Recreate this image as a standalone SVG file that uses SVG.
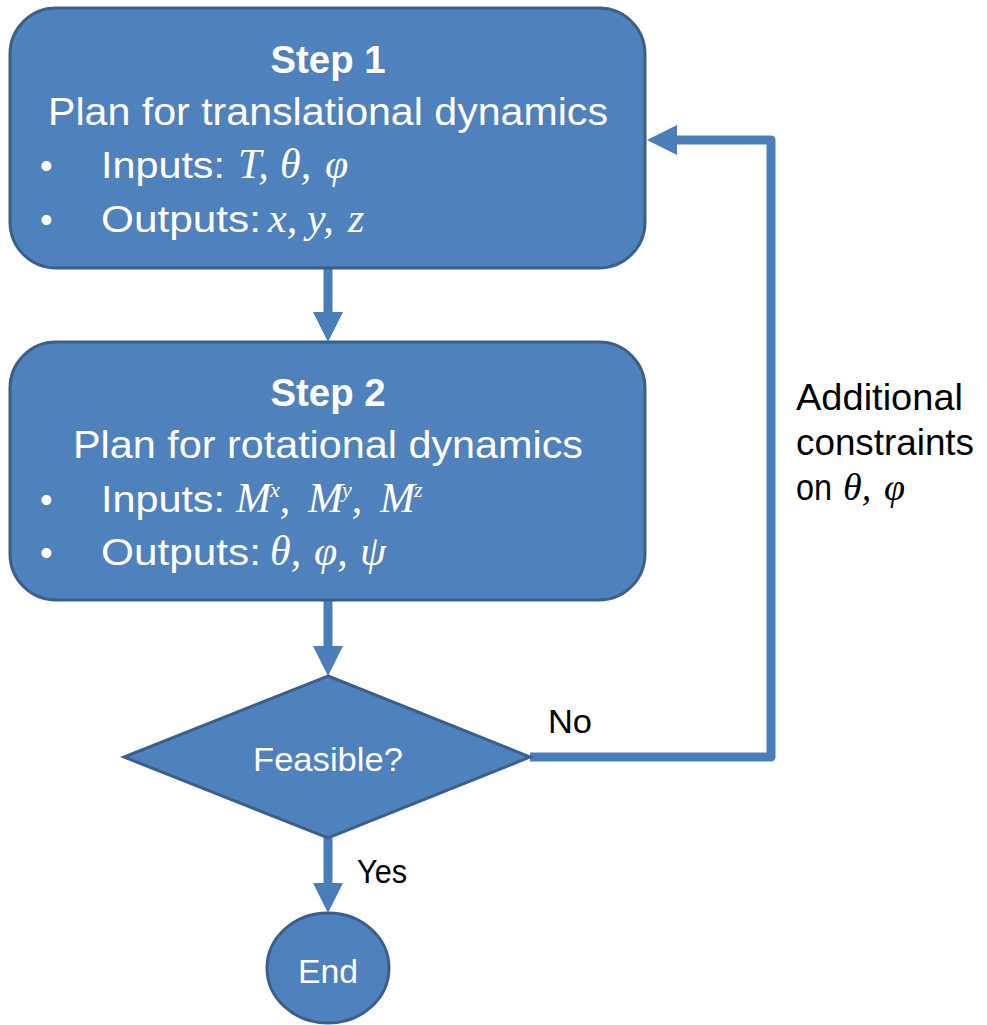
<svg xmlns="http://www.w3.org/2000/svg" width="987" height="1025" viewBox="0 0 987 1025">
<defs>
<style>
.node{fill:#4F81BD;stroke:#3A5F8B;stroke-width:3}
.t{font-family:"Liberation Sans",Arial,sans-serif;fill:#fff}
.b{font-weight:bold}
.lbl{font-family:"Liberation Sans",Arial,sans-serif;fill:#000}
.m{font-family:"Liberation Serif","Times New Roman",serif;font-style:italic;font-size:42px}
.conn{fill:none;stroke:#4A7EBB;stroke-width:9;stroke-linejoin:round}
</style>
<marker id="ah" markerUnits="userSpaceOnUse" markerWidth="30" markerHeight="30" refX="12" refY="15" orient="auto" viewBox="0 0 30 30">
<path d="M0,0 L30,15 L0,30 z" fill="#4A7EBB"/>
</marker>
</defs>
<g id="connectors">
<line class="conn" x1="328" y1="268" x2="328" y2="324" marker-end="url(#ah)"/>
<line class="conn" x1="328" y1="600" x2="328" y2="658" marker-end="url(#ah)"/>
<line class="conn" x1="328" y1="838" x2="328" y2="895" marker-end="url(#ah)"/>
<path class="conn" d="M530,757 H771 V140 H665" marker-end="url(#ah)"/>
</g>
<g id="step1">
<rect class="node" x="10" y="8" width="635" height="260" rx="46" ry="46"/>
<text class="t b" x="328" y="73" font-size="38" text-anchor="middle" textLength="115" lengthAdjust="spacingAndGlyphs">Step 1</text>
<text class="t" x="328" y="125" font-size="38" text-anchor="middle" textLength="560" lengthAdjust="spacingAndGlyphs">Plan for translational dynamics</text>
<text class="t" x="40" y="178" font-size="36">•</text>
<text class="t" x="101" y="178" font-size="37" textLength="124" lengthAdjust="spacingAndGlyphs">Inputs:</text>
<text class="t m" x="238" y="178">T,</text>
<text class="t m" x="280" y="178">θ,</text>
<text class="t m" x="325" y="178">φ</text>
<text class="t" x="40" y="232" font-size="36">•</text>
<text class="t" x="101" y="232" font-size="37" textLength="160" lengthAdjust="spacingAndGlyphs">Outputs:</text>
<text class="t m" x="268" y="232">x,</text>
<text class="t m" x="307" y="232">y,</text>
<text class="t m" x="348" y="232">z</text>
</g>
<g id="step2">
<rect class="node" x="10" y="342" width="635" height="258" rx="46" ry="46"/>
<text class="t b" x="328" y="406" font-size="38" text-anchor="middle" textLength="115" lengthAdjust="spacingAndGlyphs">Step 2</text>
<text class="t" x="328" y="458" font-size="38" text-anchor="middle" textLength="510" lengthAdjust="spacingAndGlyphs">Plan for rotational dynamics</text>
<text class="t" x="40" y="512" font-size="36">•</text>
<text class="t" x="101" y="512" font-size="37" textLength="124" lengthAdjust="spacingAndGlyphs">Inputs:</text>
<text class="t m" x="236" y="512">M<tspan font-size="22" dx="-1" dy="-15">x</tspan><tspan dy="15">,</tspan></text>
<text class="t m" x="308" y="512">M<tspan font-size="22" dx="-1" dy="-15">y</tspan><tspan dy="15">,</tspan></text>
<text class="t m" x="380" y="512">M<tspan font-size="22" dx="-1" dy="-15">z</tspan></text>
<text class="t" x="40" y="565" font-size="36">•</text>
<text class="t" x="101" y="565" font-size="37" textLength="160" lengthAdjust="spacingAndGlyphs">Outputs:</text>
<text class="t m" x="270" y="565">θ,</text>
<text class="t m" x="314" y="565">φ,</text>
<text class="t m" x="360" y="565">ψ</text>
</g>
<g id="feasible">
<polygon class="node" points="328,676 530,757 328,838 124,757"/>
<text class="t" x="328" y="771" font-size="34" text-anchor="middle" textLength="150" lengthAdjust="spacingAndGlyphs">Feasible?</text>
</g>
<g id="end">
<ellipse class="node" cx="328" cy="968" rx="61" ry="55"/>
<text class="t" x="328" y="983" font-size="34" text-anchor="middle" textLength="60" lengthAdjust="spacingAndGlyphs">End</text>
</g>
<g id="labels">
<text class="lbl" x="548" y="733" font-size="34" textLength="44" lengthAdjust="spacingAndGlyphs">No</text>
<text class="lbl" x="357" y="883" font-size="34" textLength="50" lengthAdjust="spacingAndGlyphs">Yes</text>
<text class="lbl" x="796" y="410" font-size="36" textLength="167" lengthAdjust="spacingAndGlyphs">Additional</text>
<text class="lbl" x="796" y="455" font-size="36" textLength="178" lengthAdjust="spacingAndGlyphs">constraints</text>
<text class="lbl" x="796" y="500" font-size="36" textLength="36" lengthAdjust="spacingAndGlyphs">on</text>
<text class="lbl m" x="843" y="500" style="font-size:38px">θ,</text>
<text class="lbl m" x="884" y="500" style="font-size:38px">φ</text>
</g>
</svg>
